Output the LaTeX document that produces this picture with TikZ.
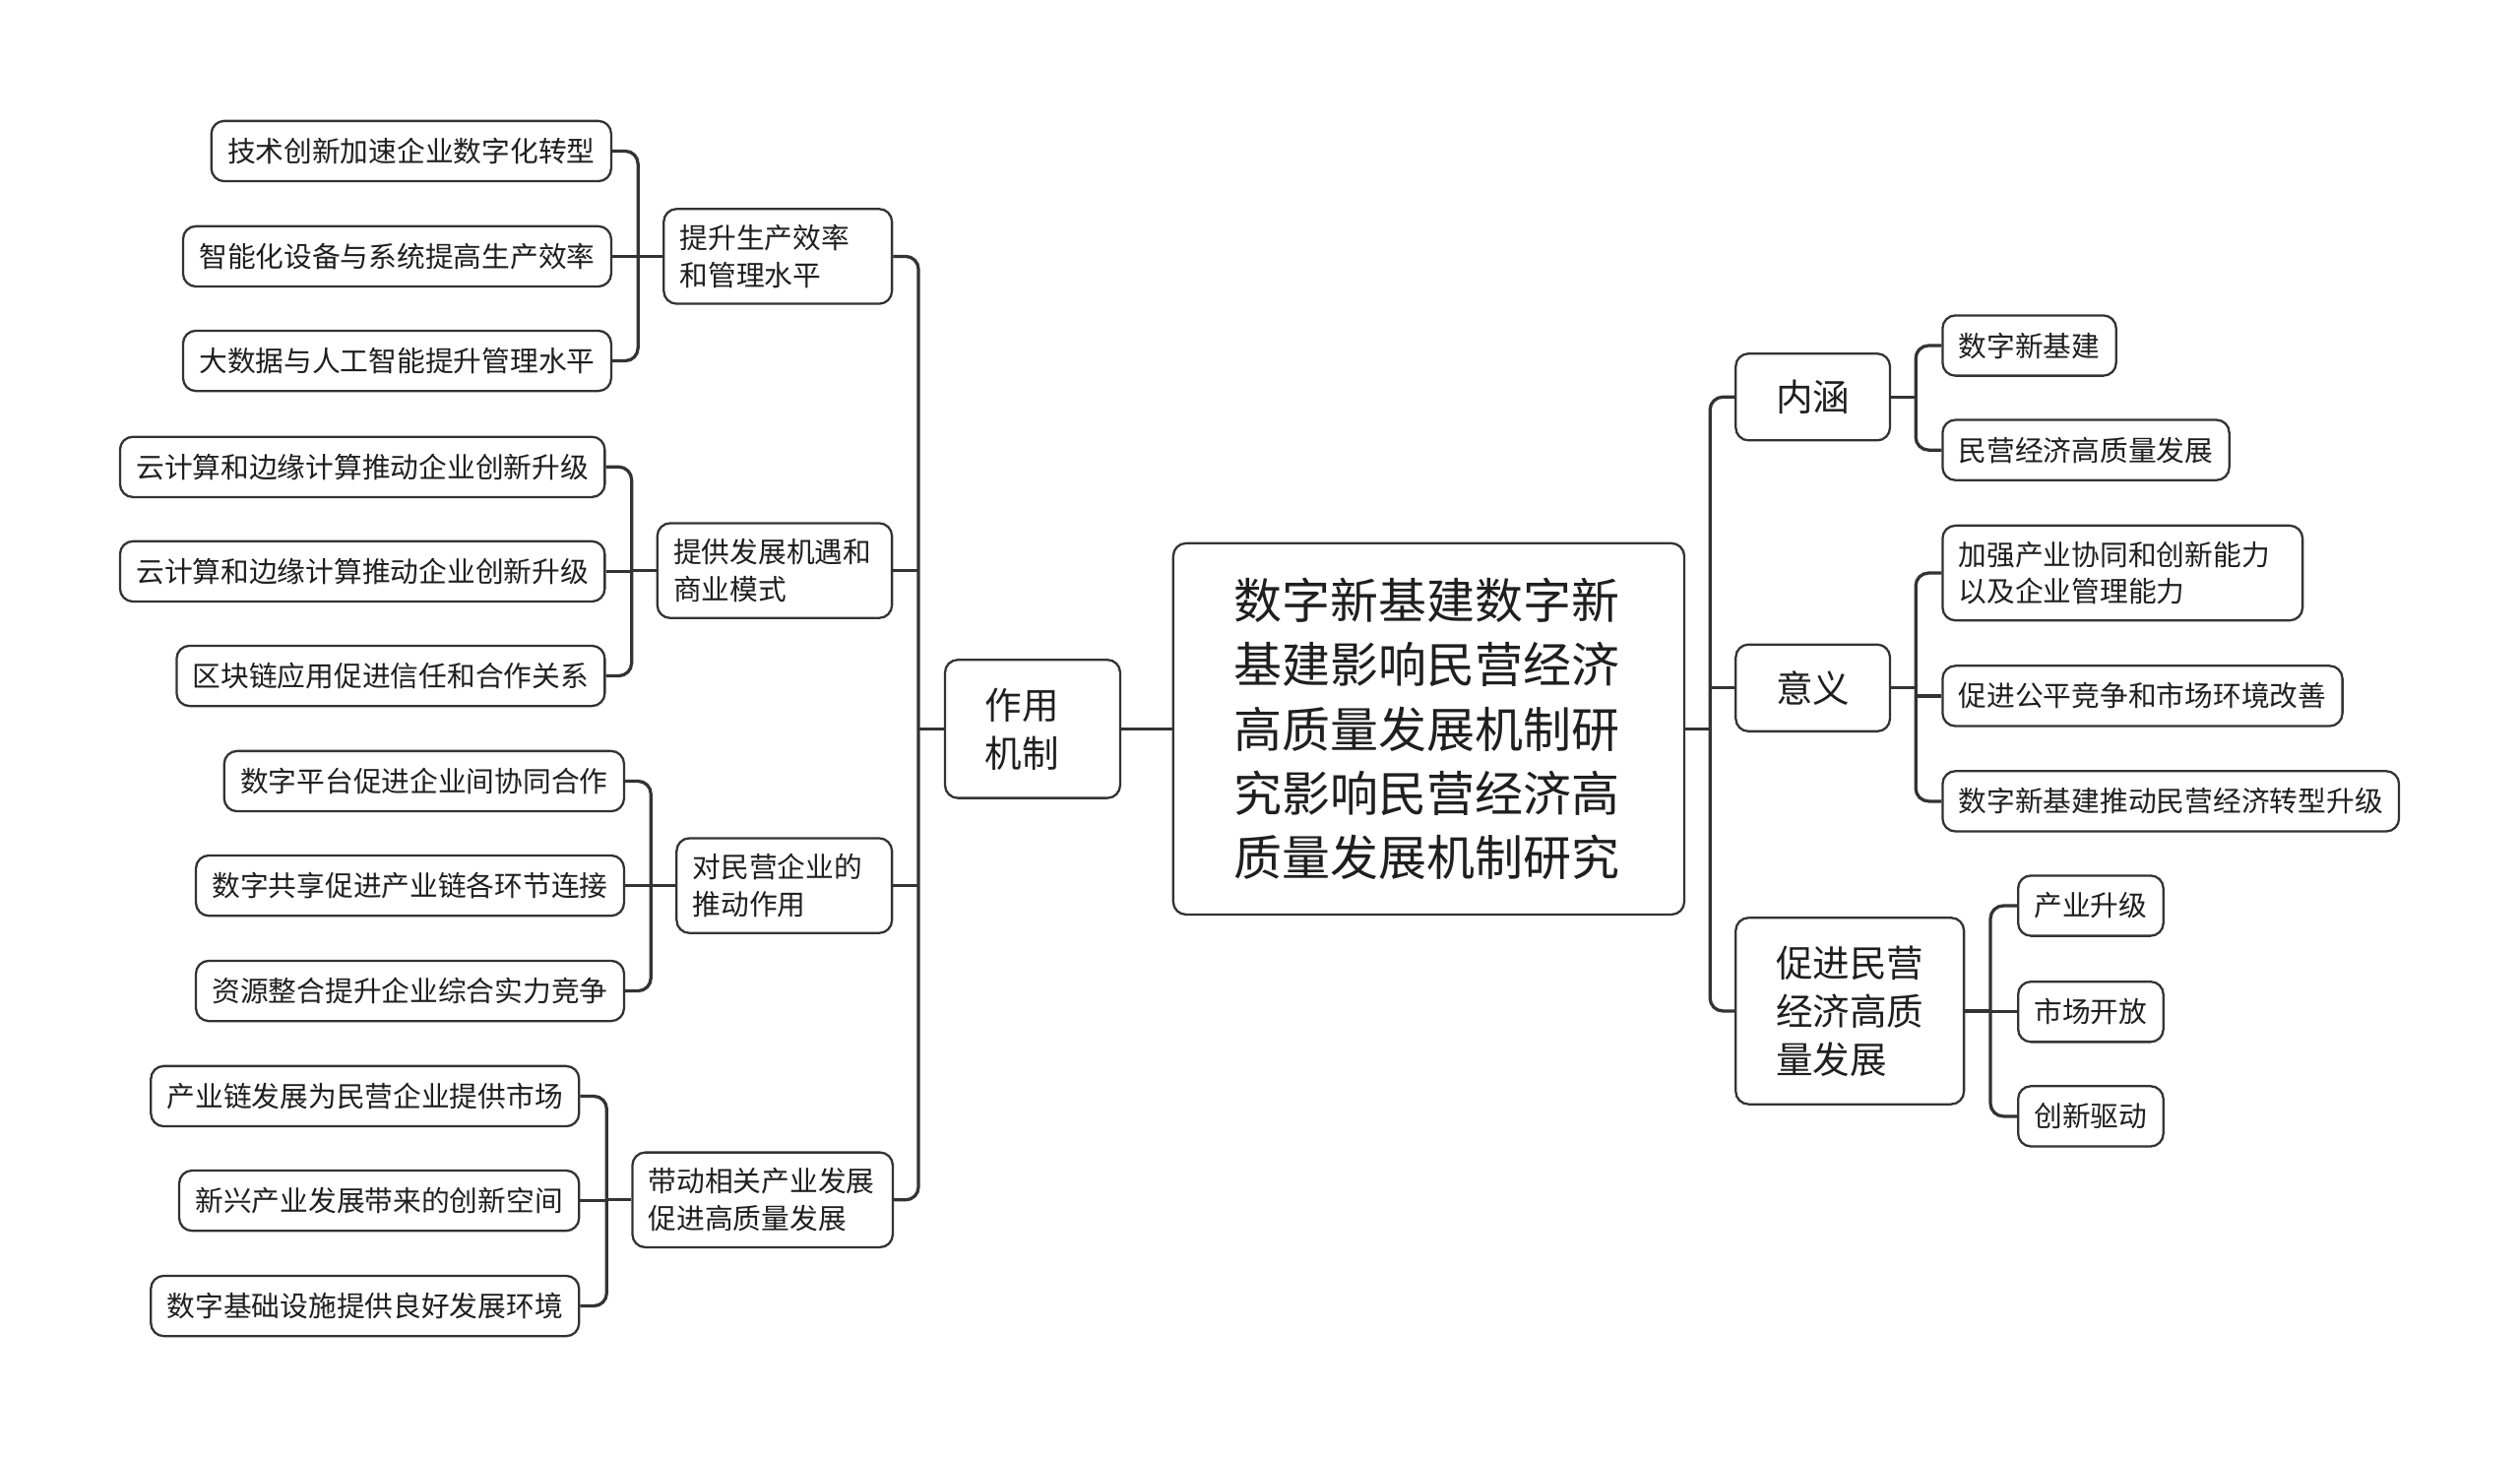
\documentclass[tikz,border=0pt]{standalone}
\usepackage{fontspec}
\setmainfont{Noto Sans CJK SC}
\usetikzlibrary{calc}
\definecolor{lc}{HTML}{333333}
\definecolor{tc}{HTML}{1F1F1F}
\begin{document}
\begin{tikzpicture}[x=1pt,y=-1pt,
  box/.style={draw=lc, line width=1.4, rounded corners=8, fill=white, text=tc, inner ysep=0pt, inner xsep=10pt},
  leaf/.style={box, minimum height=37.5, font=\fontsize{17.6}{23}\selectfont},
  leaftwo/.style={box, minimum height=59, align=left, font=\fontsize{17.6}{23}\selectfont},
  midbox/.style={box, minimum height=59, align=left, font=\fontsize{17.6}{23}\selectfont},
  topbox/.style={box, font=\fontsize{23}{30}\selectfont},
  conn/.style={draw=lc, line width=2, rounded corners=8}]
\useasboundingbox (0,0) rectangle (1568,907);

% root
\node[box, font=\fontsize{30}{40}\selectfont, text width=242, inner xsep=38, minimum height=231, align=left] (root) at (889,453.5)
 {数字新基建数字新\\基建影响民营经济\\高质量发展机制研\\究影响民营经济高\\质量发展机制研究};

% left level 1
\node[topbox, text width=59, inner xsep=25, minimum height=86, align=left] (zy) at (642.5,453.5) {作用\\机制};

% left level 2
\node[midbox, text width=122] (p1) at (484,159.5) {提升生产效率\\和管理水平};
\node[midbox, text width=126] (p2) at (482,355) {提供发展机遇和\\商业模式};
\node[midbox, text width=114] (p3) at (488,551) {对民营企业的\\推动作用};
\node[midbox, text width=142] (p4) at (474.5,746.5) {带动相关产业发展\\促进高质量发展};

% left leaves
\node[leaf, anchor=east] (a1) at (381,94) {技术创新加速企业数字化转型};
\node[leaf, anchor=east] (a2) at (381,159.5) {智能化设备与系统提高生产效率};
\node[leaf, anchor=east] (a3) at (381,224.5) {大数据与人工智能提升管理水平};
\node[leaf, anchor=east] (b1) at (377,290.5) {云计算和边缘计算推动企业创新升级};
\node[leaf, anchor=east] (b2) at (377,355.5) {云计算和边缘计算推动企业创新升级};
\node[leaf, anchor=east] (b3) at (377,420.5) {区块链应用促进信任和合作关系};
\node[leaf, anchor=east] (c1) at (389,486) {数字平台促进企业间协同合作};
\node[leaf, anchor=east] (c2) at (389,551) {数字共享促进产业链各环节连接};
\node[leaf, anchor=east] (c3) at (389,616.5) {资源整合提升企业综合实力竞争};
\node[leaf, anchor=east] (d1) at (361,682) {产业链发展为民营企业提供市场};
\node[leaf, anchor=east] (d2) at (361,747) {新兴产业发展带来的创新空间};
\node[leaf, anchor=east] (d3) at (361,812.5) {数字基础设施提供良好发展环境};

% right level 1
\node[topbox, minimum width=96, minimum height=54, align=center] (n1) at (1128,247) {内涵};
\node[topbox, minimum width=96, minimum height=54, align=center] (n2) at (1128,428) {意义};
\node[topbox, text width=92, inner xsep=25, minimum height=116, align=left] (n3) at (1151,629) {促进民营\\经济高质\\量发展};

% right leaves
\node[leaf, anchor=west] (r1) at (1208,215) {数字新基建};
\node[leaf, anchor=west] (r2) at (1208,280) {民营经济高质量发展};
\node[leaftwo, anchor=west, text width=204] (r3) at (1208,356.5) {加强产业协同和创新能力\\以及企业管理能力};
\node[leaf, anchor=west] (r4) at (1208,433) {促进公平竞争和市场环境改善};
\node[leaf, anchor=west] (r5) at (1208,498.5) {数字新基建推动民营经济转型升级};
\node[leaf, anchor=west] (s1) at (1255,563.5) {产业升级};
\node[leaf, anchor=west] (s2) at (1255,629.5) {市场开放};
\node[leaf, anchor=west] (s3) at (1255,694.5) {创新驱动};

% trunk coordinates
\coordinate (tl) at (571.5,0);
\coordinate (g1) at (397,0);
\coordinate (g2) at (393,0);
\coordinate (g3) at (405,0);
\coordinate (g4) at (377.5,0);
\coordinate (tr) at (1064,0);
\coordinate (h1) at (1192,0);
\coordinate (h2) at (1192,0);
\coordinate (h3) at (1238.5,0);

% root to left
\draw[conn] (zy.east) -- (zy.east -| root.west);
\draw[conn] (zy.west) -- (zy.west -| tl);
\draw[conn] (p1.east) -| (tl |- p4.east) -- (p4.east);
\draw[conn] (p2.east) -- (p2.east -| tl);
\draw[conn] (p3.east) -- (p3.east -| tl);

% group 1
\draw[conn] (p1.west) -- (p1.west -| g1);
\draw[conn] (a1.east) -| (g1 |- a3.east) -- (a3.east);
\draw[conn] (a2.east) -- (a2.east -| g1);
% group 2
\draw[conn] (p2.west) -- (p2.west -| g2);
\draw[conn] (b1.east) -| (g2 |- b3.east) -- (b3.east);
\draw[conn] (b2.east) -- (b2.east -| g2);
% group 3
\draw[conn] (p3.west) -- (p3.west -| g3);
\draw[conn] (c1.east) -| (g3 |- c3.east) -- (c3.east);
\draw[conn] (c2.east) -- (c2.east -| g3);
% group 4
\draw[conn] (p4.west) -- (p4.west -| g4);
\draw[conn] (d1.east) -| (g4 |- d3.east) -- (d3.east);
\draw[conn] (d2.east) -- (d2.east -| g4);

% root to right
\draw[conn] (root.east) -- (root.east -| tr);
\draw[conn] (n1.west) -| (tr |- n3.west) -- (n3.west);
\draw[conn] (n2.west) -- (n2.west -| tr);

% right groups
\draw[conn] (n1.east) -- (n1.east -| h1);
\draw[conn] (r1.west) -| (h1 |- r2.west) -- (r2.west);
\draw[conn] (n2.east) -- (n2.east -| h2);
\draw[conn] (r3.west) -| (h2 |- r5.west) -- (r5.west);
\draw[conn] (r4.west) -- (r4.west -| h2);
\draw[conn] (n3.east) -- (n3.east -| h3);
\draw[conn] (s1.west) -| (h3 |- s3.west) -- (s3.west);
\draw[conn] (s2.west) -- (s2.west -| h3);
\end{tikzpicture}
\end{document}
